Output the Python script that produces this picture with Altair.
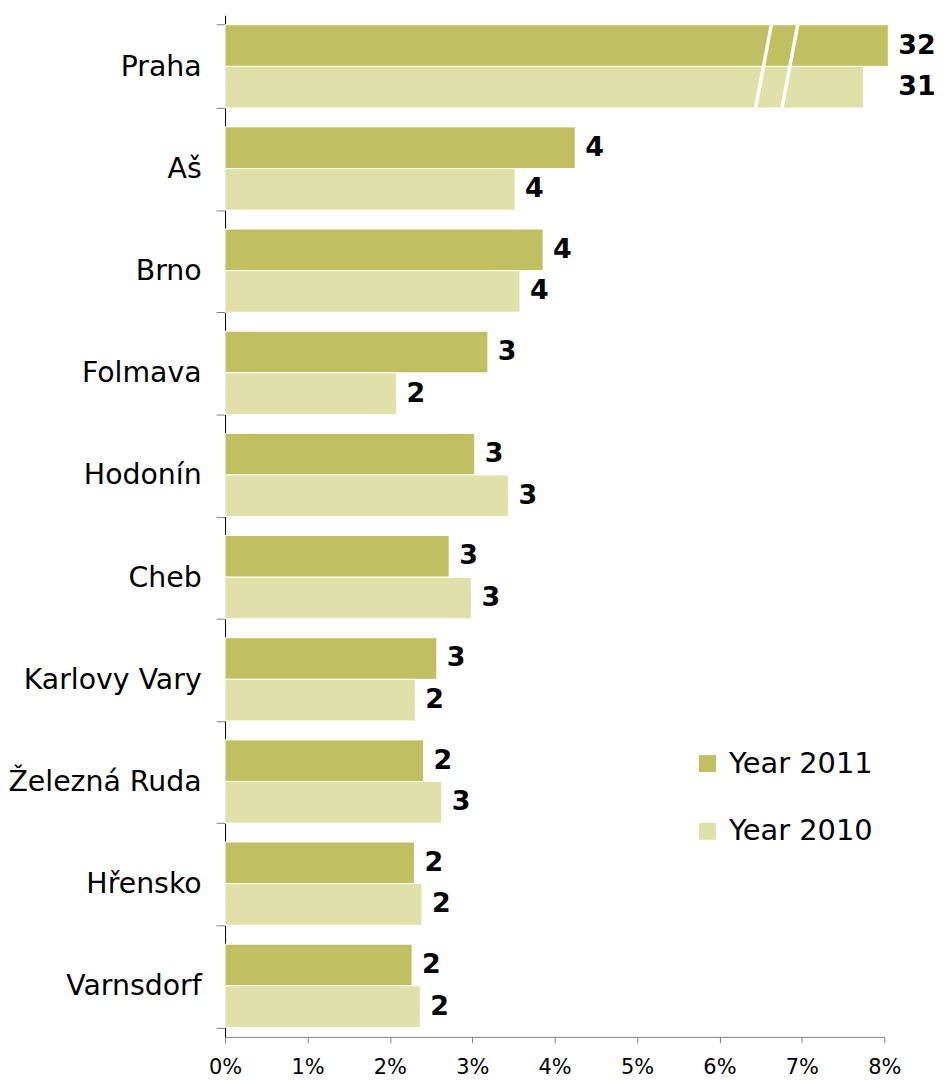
import altair as alt
import pandas as pd

# ---- data ----
cities = ["Praha", "Aš", "Brno", "Folmava", "Hodonín", "Cheb",
          "Karlovy Vary", "Železná Ruda", "Hřensko", "Varnsdorf"]
years = ["Year 2011", "Year 2010"]
# drawn bar lengths in % (Praha is drawn truncated with a break)
bar_2011 = [8.05, 4.25, 3.86, 3.19, 3.03, 2.72, 2.57, 2.41, 2.30, 2.27]
bar_2010 = [7.75, 3.52, 3.58, 2.08, 3.44, 2.99, 2.31, 2.63, 2.39, 2.37]
# value labels shown at the bar ends
labels_2011 = [32, 4, 4, 3, 3, 3, 3, 2, 2, 2]
labels_2010 = [31, 4, 4, 2, 3, 3, 2, 3, 2, 2]
broken_cities = ["Praha"]
# axis-break marks on the Praha bars (x in % at top and bottom of the pair)
break_x_top = [6.63, 6.95]
break_x_bottom = [6.44, 6.76]
x_ticks = [0, 1, 2, 3, 4, 5, 6, 7, 8]
colors = ["#C0BF61", "#E0E0A9"]

# ---- layout ----
W, H = 662, 1026
PAD_INNER, PAD_OUTER = 0.185, 0.0925
FONT = "DejaVu Sans"

rows = []
for i, c in enumerate(cities):
    rows.append(dict(city=c, year=years[0], value=bar_2011[i], label=labels_2011[i]))
    rows.append(dict(city=c, year=years[1], value=bar_2010[i], label=labels_2010[i]))
df = pd.DataFrame(rows)
mx = df.groupby("city")["value"].transform("max")
df["anchor"] = df["value"].where(~df["city"].isin(broken_cities), mx)

breaks = pd.DataFrame({"xt": break_x_top, "xb": break_x_bottom})

step = H / len(cities)
y_top = step * PAD_OUTER
y_bot = step * (1 - PAD_INNER + PAD_OUTER)

y_enc = alt.Y("city:N", sort=cities,
              scale=alt.Scale(paddingInner=PAD_INNER, paddingOuter=PAD_OUTER),
              axis=alt.Axis(title=None, tickBand="extent", tickSize=9,
                            tickColor="#808080", domainColor="#000000",
                            labelFont=FONT, labelFontSize=28.5, labelColor="#000000",
                            labelPadding=15, labelLimit=400, grid=False))
yoff = alt.YOffset("year:N", sort=years, scale=alt.Scale(domain=years, paddingInner=0, paddingOuter=0))
x_scale = alt.Scale(domain=[0, 8], nice=False, zero=True)

bars = alt.Chart(df).mark_bar(stroke="white", strokeWidth=1).encode(
    y=y_enc,
    yOffset=yoff,
    x=alt.X("value:Q", scale=x_scale,
            axis=alt.Axis(title=None, values=x_ticks, labelExpr="datum.value + '%'",
                          tickSize=6, tickColor="#808080", domainColor="#808080",
                          labelFont=FONT, labelFontSize=21, labelColor="#000000",
                          labelPadding=14, labelFlush=False, grid=False)),
    color=alt.Color("year:N", sort=years,
                    scale=alt.Scale(domain=years, range=colors),
                    legend=alt.Legend(title=None, orient="none", legendX=470, legendY=737,
                                      symbolType="square", symbolSize=289,
                                      symbolStrokeWidth=0, labelFont=FONT,
                                      labelFontSize=29, labelColor="#000000",
                                      labelOffset=7, rowPadding=38, padding=0)),
)

text = alt.Chart(df).mark_text(align="left", baseline="middle", dx=10, font=FONT,
                               fontSize=27, fontWeight="bold", color="#000000").encode(
    y=alt.Y("city:N", sort=cities),
    yOffset=alt.YOffset("year:N", sort=years),
    x=alt.X("anchor:Q"),
    text=alt.Text("label:N"),
)

brk = alt.Chart(breaks).mark_rule(color="white", strokeWidth=3.5).encode(
    x=alt.X("xt:Q"),
    x2=alt.X2("xb"),
    y=alt.value(y_top),
    y2=alt.value(y_bot),
)

chart = alt.layer(bars, text, brk).properties(
    width=W, height=H,
    padding={"left": 218, "top": 5, "right": 52, "bottom": 42},
    autosize=alt.AutoSizeParams(type="none"),
).configure_view(stroke=None)

chart.save("out.html", embed_options={"renderer": "svg", "actions": False})
